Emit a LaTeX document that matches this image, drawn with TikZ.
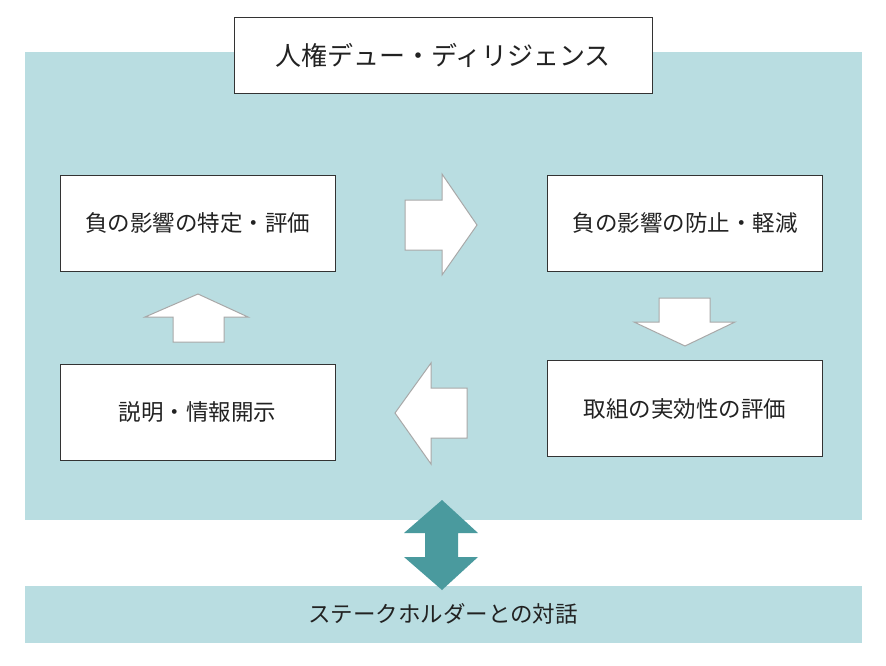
\documentclass[tikz,border=0pt]{standalone}
\usepackage{fontspec}
\newfontfamily\jp{Noto Sans CJK JP}
\definecolor{bgblue}{HTML}{B9DDE1}
\definecolor{teal}{HTML}{4A9A9E}
\definecolor{arrowgray}{HTML}{A8A8A8}
\definecolor{boxline}{HTML}{333333}
\definecolor{txt}{HTML}{222222}
\tikzset{
  stepbox/.style={draw=boxline, line width=1pt, fill=white, minimum width=275pt, minimum height=96pt, inner sep=0pt, text=txt, font=\jp\fontsize{22.5}{26}\selectfont},
  titlebox/.style={draw=boxline, line width=1pt, fill=white, minimum width=418pt, minimum height=76pt, inner sep=0pt, text=txt, font=\jp\fontsize{26}{30}\selectfont},
  flowarrow/.style={draw=arrowgray, line width=1pt, fill=white, line join=miter},
  bandtext/.style={font=\jp\fontsize{22.5}{26}\selectfont, text=txt}
}
\begin{document}
\begin{tikzpicture}[x=1pt,y=-1pt]
\useasboundingbox (0,0) rectangle (886,665);
\fill[white] (0,0) rectangle (886,665);
% backgrounds
\fill[bgblue] (25,52) rectangle (862,520);
\fill[bgblue] (25,586) rectangle (862,643);
% title
\node[titlebox] (title) at (443,55.5) {人権デュー・ディリジェンス};
% step boxes
\node[stepbox] (identify) at (197.5,223) {負の影響の特定・評価};
\node[stepbox] (prevent) at (685,223) {負の影響の防止・軽減};
\node[stepbox] (evaluate) at (685,408.5) {取組の実効性の評価};
\node[stepbox] (disclose) at (197.5,412) {説明・情報開示};
% arrows
\draw[flowarrow] (405,200) -- (442,200) -- (442,174) -- (477,225) -- (442,275) -- (442,250) -- (405,250) -- cycle;
\draw[flowarrow] (659,298) -- (710,298) -- (710,322) -- (735,322) -- (685,346) -- (634,322) -- (659,322) -- cycle;
\draw[flowarrow] (467,388) -- (431,388) -- (431,363) -- (395,413) -- (431,464) -- (431,438) -- (467,438) -- cycle;
\draw[flowarrow] (173,342) -- (173,317) -- (145,317) -- (198,294) -- (248,317) -- (224,317) -- (224,342) -- cycle;
% double arrow
\fill[teal] (442,500) -- (478,533) -- (458,533) -- (458,557) -- (478,557) -- (442,590) -- (404,557) -- (425,557) -- (425,533) -- (404,533) -- cycle;
% stakeholder band text
\node[bandtext] (stake) at (443,614) {ステークホルダーとの対話};
\end{tikzpicture}
\end{document}
